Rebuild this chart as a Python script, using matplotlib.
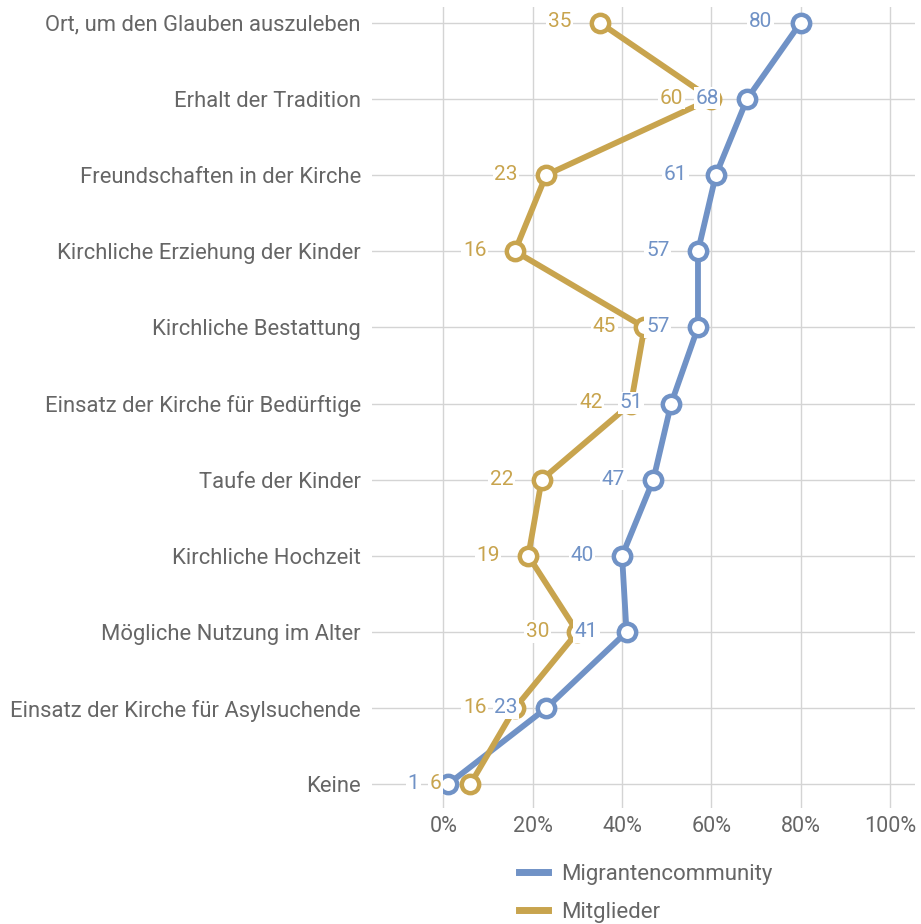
import matplotlib
matplotlib.use("Agg")
import matplotlib.pyplot as plt
from matplotlib.lines import Line2D

plt.rcParams['font.family'] = ['Roboto', 'DejaVu Sans']

# Kategorien von oben nach unten
kategorien = [
    "Ort, um den Glauben auszuleben",
    "Erhalt der Tradition",
    "Freundschaften in der Kirche",
    "Kirchliche Erziehung der Kinder",
    "Kirchliche Bestattung",
    "Einsatz der Kirche für Bedürftige",
    "Taufe der Kinder",
    "Kirchliche Hochzeit",
    "Mögliche Nutzung im Alter",
    "Einsatz der Kirche für Asylsuchende",
    "Keine",
]
migranten = [80, 68, 61, 57, 57, 51, 47, 40, 41, 23, 1]
mitglieder = [35, 60, 23, 16, 45, 42, 22, 19, 30, 16, 6]
xticks = [0, 20, 40, 60, 80, 100]
xticklabels = ["0%", "20%", "40%", "60%", "80%", "100%"]

blau = "#7092c6"
gold = "#c8a44e"
grau = "#666666"

fig = plt.figure(figsize=(9.21, 9.24), dpi=100)
ax = fig.add_axes([372 / 921, 1 - 808 / 924, (915 - 372) / 921, (808 - 7) / 924])

y = list(range(len(kategorien)))

for werte, farbe, z in [(migranten, blau, 3), (mitglieder, gold, 4)]:
    ax.plot(werte, y, color=farbe, lw=4.2, marker="o", ms=12.5,
            mfc="white", mec=farbe, mew=3.2, zorder=z, solid_capstyle="butt")

# Wertebeschriftungen links vom Punkt, mit weißem Hintergrund
for werte, farbe, z in [(mitglieder, gold, 5), (migranten, blau, 6)]:
    for wert, yi in zip(werte, y):
        ax.annotate(str(wert), (wert, yi), xytext=(-20.5, 0.5),
                    textcoords="offset points", ha="right", va="center",
                    fontsize=15, color=farbe, zorder=z,
                    bbox=dict(boxstyle="square,pad=0.08", fc="white", ec="none"))

ax.set_xlim(-16, 105.6)
ax.set_ylim(10.31, -0.206)
ax.set_yticks(y)
ax.set_yticklabels(kategorien, fontsize=15.8)
ax.set_xticks(xticks)
ax.set_xticklabels(xticklabels, fontsize=15.5)
ax.tick_params(length=0, labelcolor=grau)
ax.tick_params(axis="y", pad=8)
ax.tick_params(axis="x", pad=6)

ax.grid(True, color="#d4d4d4", lw=1)
ax.set_axisbelow(True)
for s in ax.spines.values():
    s.set_visible(False)

handles = [Line2D([], [], color=blau, lw=5),
           Line2D([], [], color=gold, lw=5)]
fig.legend(handles, ["Migrantencommunity", "Mitglieder"],
           loc="upper left", bbox_to_anchor=(499 / 921, 1 - 844 / 924),
           frameon=False, fontsize=16, labelcolor=grau, handlelength=1.3,
           handletextpad=0.6, labelspacing=0.75)

fig.savefig("out.png", dpi=100)
